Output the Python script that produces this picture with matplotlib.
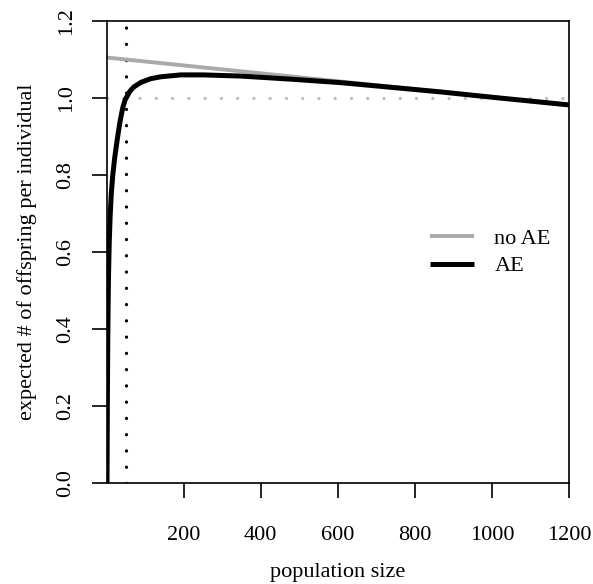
import matplotlib
matplotlib.use("Agg")
import matplotlib.pyplot as plt

plt.rcParams['font.family'] = ['Liberation Serif', 'DejaVu Serif']
plt.rcParams['lines.scale_dashes'] = False

# Data
noae_n = [1, 1200]
noae_val = [1.105, 0.982]

ae_n = [1, 2, 3, 4, 5, 6, 7, 9, 12, 16, 21, 28, 35, 42, 48, 60, 71, 90, 114,
        140, 192, 250, 348, 477, 606, 865, 1000, 1200]
ae_val = [0.0, 0.22, 0.37, 0.47, 0.54, 0.59, 0.63, 0.69, 0.75, 0.80, 0.845,
          0.895, 0.94, 0.975, 0.995, 1.017, 1.029, 1.041, 1.05, 1.055, 1.06,
          1.06, 1.057, 1.049, 1.040, 1.016, 1.002, 0.982]

threshold_n = 51
ref_level = 1.0

x_ticks = [200, 400, 600, 800, 1000, 1200]
y_ticks = [0.0, 0.2, 0.4, 0.6, 0.8, 1.0, 1.2]
y_ticklabels = ["0.0", "0.2", "0.4", "0.6", "0.8", "1.0", "1.2"]
legend_labels = ["no AE", "AE"]

W, H = 593, 584
fig = plt.figure(figsize=(W / 100, H / 100), dpi=100)
ax = fig.add_axes([107 / W, (H - 483) / H, 462 / W, 462 / H])

ax.axhline(ref_level, color='#bebebe', lw=2.4, dashes=(0.01, 11.7),
           dash_capstyle='round', zorder=1)
ax.axvline(threshold_n, color='black', lw=2.4, dashes=(0.01, 11.7),
           dash_capstyle='round', zorder=1)
ax.plot(noae_n, noae_val, color='#a9a9a9', lw=2.8, label=legend_labels[0],
        solid_capstyle='butt', zorder=2)
ax.plot(ae_n, ae_val, color='black', lw=3.6, label=legend_labels[1],
        solid_capstyle='butt', solid_joinstyle='round', zorder=3)

ax.set_xlim(1, 1200)
ax.set_ylim(0, 1.2)
ax.set_xticks(x_ticks)
ax.set_xticklabels([str(t) for t in x_ticks])
ax.set_yticks(y_ticks)
ax.set_yticklabels(y_ticklabels, rotation=90, va='center')
ax.tick_params(axis='both', length=10.6, width=1.2, labelsize=16,
               direction='out')
ax.tick_params(axis='x', pad=20)
ax.tick_params(axis='y', pad=12)
for s in ax.spines.values():
    s.set_linewidth(1.2)

ax.set_xlabel("population size", fontsize=16, labelpad=13)
ax.set_ylabel("expected # of offspring per individual", fontsize=16, labelpad=14)

ax.legend(loc='center left', bbox_to_anchor=(0.699, 0.499), frameon=False,
          fontsize=16, handlelength=2.0, handletextpad=0.9, labelspacing=0.3,
          borderaxespad=0, borderpad=0)

fig.savefig("out.png", dpi=100)
